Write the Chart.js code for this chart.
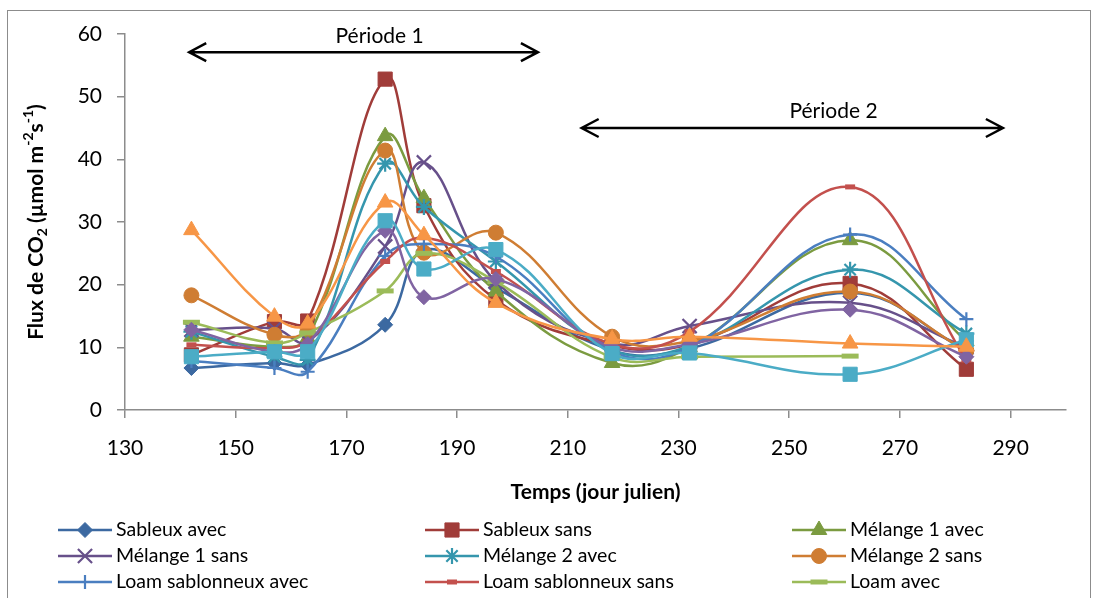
<!DOCTYPE html>
<html>
<head>
<meta charset="utf-8">
<script src="https://cdn.jsdelivr.net/npm/chart.js@4.4.1/dist/chart.umd.min.js"></script>
<style>
  html, body { margin: 0; padding: 0; background: #fff; }
  #wrap { position: relative; width: 1098px; height: 598px; }
</style>
</head>
<body>
<div id="wrap"><canvas id="fluxChart"></canvas></div>
<script>
// Sampling days (jour julien)
const days = [142, 157, 163, 177, 184, 197, 218, 232, 261, 282];

// CO2 flux per treatment (µmol m-2 s-1)
const sableuxAvec         = [6.7, 7.5, 7.2, 13.6, 25.5, 19.5, 9.5, 9.8, 18.7, 9.5];
const sableuxSans         = [8.8, 14.1, 14.2, 52.8, 32.6, 17.6, 10.3, 10.5, 20.2, 6.5];
const melange1Avec        = [11.7, 10.1, 11.5, 43.7, 33.8, 18.9, 7.5, 10.0, 27.1, 11.0];
const melange1Sans        = [12.8, 13.0, 10.9, 26.1, 39.5, 20.5, 10.6, 13.4, 17.1, 10.0];
const melange2Avec        = [12.5, 8.5, 8.0, 39.3, 32.4, 23.7, 9.6, 10.2, 22.4, 12.2];
const melange2Sans        = [18.3, 12.0, 13.0, 41.4, 25.1, 28.3, 11.7, 11.0, 18.9, 9.5];
const loamSablonneuxAvec  = [7.8, 6.7, 6.1, 24.6, 26.5, 24.5, 9.3, 10.0, 28.0, 14.5];
const loamSablonneuxSans  = [10.4, 9.9, 11.0, 23.7, 27.5, 22.1, 10.5, 12.5, 35.6, 8.0];
const loamAvec            = [14.0, 10.7, 12.3, 19.0, 25.0, 20.5, 8.4, 8.5, 8.6, null];
const loamSans            = [12.8, 9.3, 10.5, 28.6, 18.0, 20.9, 10.0, 10.5, 16.0, 8.5];
const serie11             = [8.5, 9.3, 9.3, 30.2, 22.5, 25.6, 9.0, 9.1, 5.7, 11.2];
const serie12             = [28.7, 14.9, 13.8, 33.1, 27.9, 17.1, 11.3, 11.7, 10.6, 10.1];

const seriesNames = ['Sableux avec', 'Sableux sans', 'Mélange 1 avec', 'Mélange 1 sans',
  'Mélange 2 avec', 'Mélange 2 sans', 'Loam sablonneux avec', 'Loam sablonneux sans',
  'Loam avec', 'Loam sans', 'Série 11', 'Série 12'];
const seriesValues = [sableuxAvec, sableuxSans, melange1Avec, melange1Sans, melange2Avec,
  melange2Sans, loamSablonneuxAvec, loamSablonneuxSans, loamAvec, loamSans, serie11, serie12];

const xTicks = [130, 150, 170, 190, 210, 230, 250, 270, 290];
const legendCount = 9; // only the first three rows of the legend are visible

// marker / colour style per series (Excel look)
const styles = [
  { color: '#3c69a1', point: 'rectRot',  r: 7.5, bw: 1 },
  { color: '#a03c39', point: 'rect',     r: 10,  bw: 1 },
  { color: '#7b9b40', point: 'triangle', r: 9,   bw: 1 },
  { color: '#67508a', point: 'crossRot', r: 10,  bw: 2.2 },
  { color: '#3596ad', point: 'star',     r: 8,   bw: 2.2 },
  { color: '#cf7d33', point: 'circle',   r: 7.5, bw: 1 },
  { color: '#4a7ec0', point: 'cross',    r: 7,   bw: 2.2 },
  { color: '#c3504d', point: 'line',     r: 5,   bw: 5 },
  { color: '#9bbb59', point: 'line',     r: 8.5, bw: 5 },
  { color: '#8064a2', point: 'rectRot',  r: 7.5, bw: 1 },
  { color: '#4bacc6', point: 'rect',     r: 10,  bw: 1 },
  { color: '#f79646', point: 'triangle', r: 9,   bw: 1 }
];

const datasets = seriesValues.map(function(vals, i) {
  const s = styles[i];
  const pts = [];
  vals.forEach(function(v, k) { if (v !== null) pts.push({ x: days[k], y: v }); });
  return {
    label: seriesNames[i],
    data: pts,
    borderColor: s.color,
    backgroundColor: s.color,
    borderWidth: 2.5,
    tension: 0.4,
    pointStyle: s.point,
    pointRadius: s.r,
    pointBorderWidth: s.bw,
    pointBackgroundColor: s.color,
    pointBorderColor: s.color,
    order: seriesValues.length - i
  };
});

// Période arrows, in data units
const periods = [
  { text: 'Période 1', x1: 141.6, x2: 204.6, y: 57.1, tx: 176, ty: 59.6 },
  { text: 'Période 2', x1: 212.5, x2: 288.6, y: 45.0, tx: 258, ty: 47.7 }
];

const FONT = 'Lato, "Open Sans", sans-serif';

const decorPlugin = {
  id: 'decor',
  beforeDraw: function(chart) {
    const ctx = chart.ctx;
    ctx.save();
    ctx.fillStyle = '#fff';
    ctx.fillRect(0, 0, chart.width, chart.height);
    ctx.strokeStyle = '#8c8c8c';
    ctx.lineWidth = 1;
    ctx.strokeRect(7.5, 10.5, 1083, 600);
    ctx.restore();
  },
  afterDraw: function(chart) {
    const ctx = chart.ctx;
    const xs = chart.scales.x, ys = chart.scales.y;
    ctx.save();

    // period arrows
    ctx.strokeStyle = '#000';
    ctx.fillStyle = '#000';
    ctx.lineWidth = 2.5;
    periods.forEach(function(p) {
      const a = xs.getPixelForValue(p.x1), b = xs.getPixelForValue(p.x2);
      const y = ys.getPixelForValue(p.y);
      ctx.beginPath();
      ctx.moveTo(a, y); ctx.lineTo(b, y);
      ctx.moveTo(a + 17, y - 9); ctx.lineTo(a, y); ctx.lineTo(a + 17, y + 9);
      ctx.moveTo(b - 17, y - 9); ctx.lineTo(b, y); ctx.lineTo(b - 17, y + 9);
      ctx.stroke();
      ctx.font = '21px ' + FONT;
      ctx.textAlign = 'center';
      ctx.textBaseline = 'middle';
      ctx.fillText(p.text, xs.getPixelForValue(p.tx), ys.getPixelForValue(p.ty));
    });

    // y axis title with sub/superscripts
    const parts = [
      ['Flux de CO', 0], ['2', 1], [' (µmol m', 0], ['-2', -1], ['s', 0], ['-1', -1], [')', 0]
    ];
    const big = 'bold 21px ' + FONT, small = 'bold 14px ' + FONT;
    let total = 0;
    parts.forEach(function(pt) { ctx.font = pt[1] ? small : big; total += ctx.measureText(pt[0]).width; });
    ctx.translate(36, (chart.chartArea.top + chart.chartArea.bottom) / 2);
    ctx.rotate(-Math.PI / 2);
    ctx.textAlign = 'left';
    ctx.textBaseline = 'middle';
    let cx = -total / 2;
    parts.forEach(function(pt) {
      ctx.font = pt[1] ? small : big;
      ctx.fillText(pt[0], cx, pt[1] === 1 ? 6 : (pt[1] === -1 ? -8 : 0));
      cx += ctx.measureText(pt[0]).width;
    });
    ctx.setTransform(1, 0, 0, 1, 0, 0);

    // x axis title
    ctx.font = 'bold 21px ' + FONT;
    ctx.textAlign = 'center';
    ctx.fillText('Temps (jour julien)', (chart.chartArea.left + chart.chartArea.right) / 2, 492);

    // legend, 3 columns
    const colX = [58, 425, 792], rowY = [530, 556, 582];
    ctx.font = '19.5px ' + FONT;
    ctx.textAlign = 'left';
    for (let i = 0; i < legendCount; i++) {
      const s = styles[i];
      const x = colX[i % 3], y = rowY[Math.floor(i / 3)];
      ctx.strokeStyle = s.color;
      ctx.fillStyle = s.color;
      ctx.lineWidth = 2.5;
      ctx.beginPath(); ctx.moveTo(x, y); ctx.lineTo(x + 54, y); ctx.stroke();
      ctx.lineWidth = s.bw;
      Chart.helpers.drawPoint(ctx, { pointStyle: s.point, radius: s.r, borderWidth: s.bw, rotation: 0 }, x + 27, y);
      ctx.fillStyle = '#000';
      ctx.fillText(seriesNames[i], x + 58, y);
    }
    ctx.restore();
  }
};

const fluxCtx = document.getElementById('fluxChart').getContext('2d');
new Chart(fluxCtx, {
  type: 'line',
  data: { datasets: datasets },
  options: {
    responsive: true,
    maintainAspectRatio: false,
    animation: false,
    layout: { padding: { top: 34, right: 32, bottom: 0, left: 0 } },
    plugins: {
      legend: { display: false },
      tooltip: { enabled: false }
    },
    scales: {
      x: {
        type: 'linear',
        min: 130,
        max: 300,
        afterBuildTicks: function(scale) { scale.ticks = xTicks.map(function(v) { return { value: v }; }); },
        afterFit: function(scale) { scale.height = 188; },
        grid: { drawOnChartArea: false, drawTicks: true, tickLength: 8, color: '#8c8c8c', lineWidth: 1.5 },
        border: { color: '#8c8c8c', width: 1.5 },
        ticks: { color: '#000', font: { family: FONT, size: 21 }, padding: 18, maxRotation: 0, autoSkip: false }
      },
      y: {
        min: 0,
        max: 60,
        afterFit: function(scale) { scale.width = 125; },
        grid: { drawOnChartArea: false, drawTicks: true, tickLength: 8, color: '#8c8c8c', lineWidth: 1.5 },
        border: { color: '#8c8c8c', width: 1.5 },
        ticks: { stepSize: 10, color: '#000', font: { family: FONT, size: 21 }, padding: 15 }
      }
    }
  },
  plugins: [decorPlugin]
});
</script>
</body>
</html>
